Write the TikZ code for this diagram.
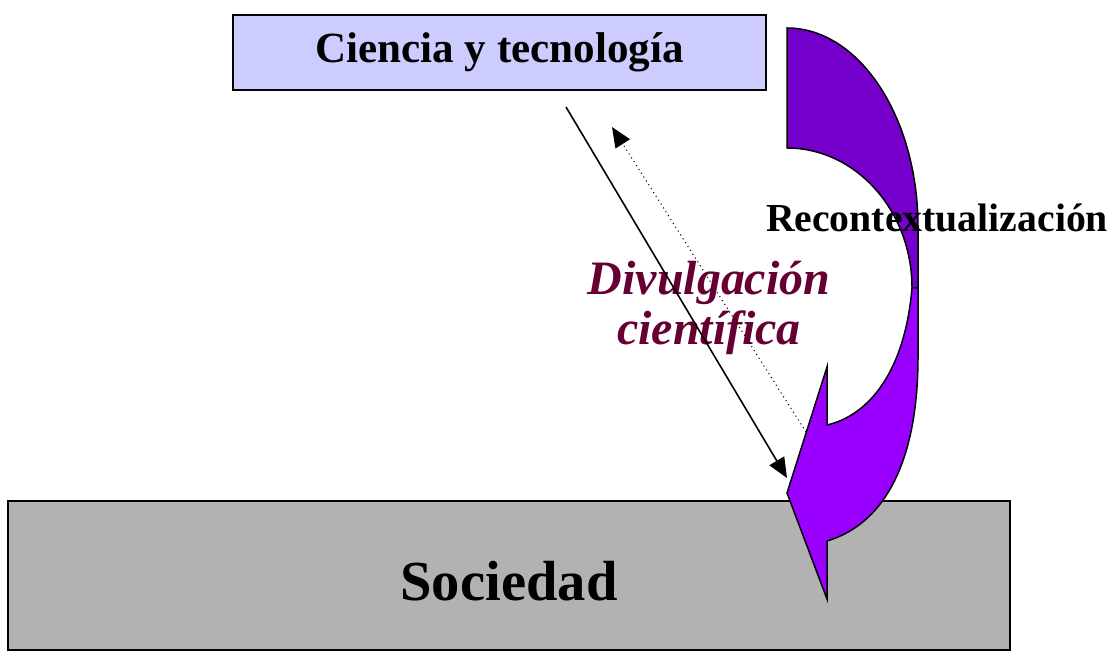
\documentclass[tikz,border=0pt]{standalone}
\usepackage{fontspec}
\setmainfont{Liberation Serif}
\usetikzlibrary{arrows.meta}

\definecolor{lavanda}{RGB}{204,204,255}
\definecolor{gris}{RGB}{178,178,178}
\definecolor{moradoosc}{RGB}{117,0,204}
\definecolor{morado}{RGB}{153,0,255}
\definecolor{granate}{RGB}{102,0,51}

\begin{document}
\begin{tikzpicture}[caja/.style={draw, line width=0.85pt, inner sep=0pt},
                    flecha/.style={draw, line width=0.85pt, line join=miter}]

\useasboundingbox (0,0) rectangle (22.26,13.04);

\node[caja, minimum width=20.04cm, minimum height=2.98cm, fill=gris, text height=1.03cm,
      font=\fontsize{32.2}{36}\selectfont\bfseries] (sociedad)
    at (10.18,1.53) {Sociedad};

\node[caja, minimum width=10.66cm, minimum height=1.5cm, fill=lavanda,
      font=\fontsize{24.5}{28}\selectfont\bfseries] (ciencia)
    at (9.99,11.99) {Ciencia y tecnología};

% flecha curva: parte de atras y parte de delante
\path[flecha, fill=moradoosc] (15.74,12.48) -- (15.74,10.08)
    .. controls (17.12,10.08) and (18.24,8.82) .. (18.24,7.28)
    -- (18.36,7.28) -- (18.36,8.50)
    .. controls (18.36,10.70) and (17.18,12.48) .. (15.74,12.48) -- cycle;
\path[flecha, fill=morado] (18.24,7.28) -- (18.36,7.28) -- (18.36,5.90)
    .. controls (18.36,4.00) and (17.80,2.60) .. (16.54,2.22)
    -- (16.54,1.06) -- (15.74,3.18) -- (16.54,5.70) -- (16.54,4.54)
    .. controls (17.40,4.74) and (18.10,5.64) .. (18.24,7.28) -- cycle;

\node[font=\fontsize{22.6}{26}\selectfont\bfseries] (recontext)
    at (18.74,8.68) {Recontextualización};

\node[align=center, text=granate, font=\fontsize{27.3}{28.4}\selectfont\bfseries\itshape] (divulgacion)
    at (14.18,6.88) {Divulgación\\ científica};

\coordinate (bajada) at (11.32,10.90);
\coordinate (punta) at (15.74,3.48);
\coordinate (retorno) at (16.12,4.40);
\coordinate (subida) at (12.24,10.50);

\draw[-{Triangle[length=0.4cm, width=0.34cm]}, line width=0.9pt] (bajada) -- (punta);
\draw[-{Triangle[length=0.4cm, width=0.34cm]}, dotted, line width=0.6pt] (retorno) -- (subida);

\end{tikzpicture}
\end{document}
